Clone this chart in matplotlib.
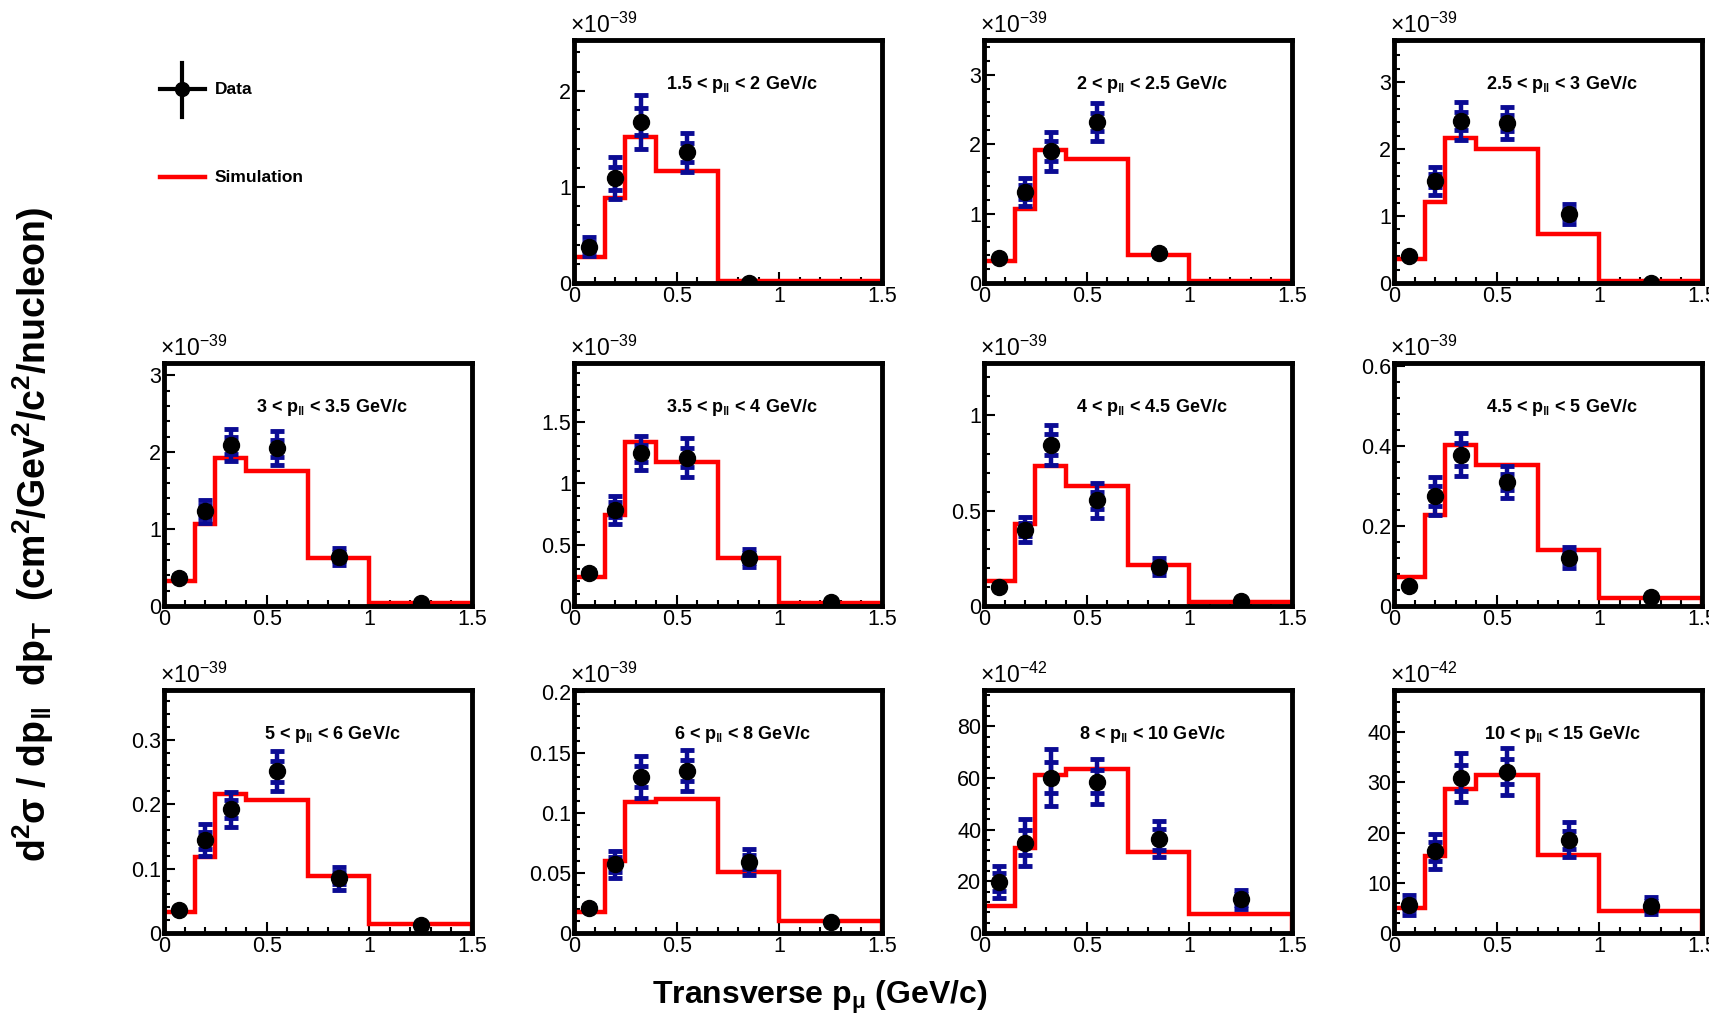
import numpy as np
import matplotlib.pyplot as plt
from matplotlib.ticker import MultipleLocator, AutoMinorLocator, FuncFormatter

plt.rcParams["font.family"] = ["Liberation Sans", "DejaVu Sans"]
plt.rcParams["mathtext.fontset"] = "custom"
plt.rcParams["mathtext.rm"] = "Liberation Sans"
plt.rcParams["mathtext.it"] = "Liberation Sans:italic"
plt.rcParams["mathtext.bf"] = "Liberation Sans:bold"

# transverse momentum binning (GeV/c)
pt_edges = [0, 0.15, 0.25, 0.4, 0.7, 1.0, 1.5]
pt_centers = [0.075, 0.2, 0.325, 0.55, 0.85, 1.25]

# longitudinal momentum slices
pl_lo = ["1.5", "2", "2.5", "3", "3.5", "4", "4.5", "5", "6", "8", "10"]
pl_hi = ["2", "2.5", "3", "3.5", "4", "4.5", "5", "6", "8", "10", "15"]
exponents = [-39, -39, -39, -39, -39, -39, -39, -39, -39, -42, -42]

nan = np.nan
data_vals = [
    [0.38, 1.09, 1.68, 1.36, 0.005, nan],
    [0.36, 1.31, 1.90, 2.32, 0.43, nan],
    [0.41, 1.53, 2.42, 2.39, 1.03, 0.005],
    [0.37, 1.23, 2.09, 2.05, 0.64, 0.04],
    [0.27, 0.785, 1.245, 1.21, 0.39, 0.036],
    [0.10, 0.40, 0.845, 0.554, 0.206, 0.026],
    [0.05, 0.275, 0.379, 0.31, 0.121, 0.0225],
    [0.035, 0.144, 0.192, 0.251, 0.085, 0.013],
    [0.021, 0.057, 0.130, 0.135, 0.059, 0.009],
    [19.8, 35.0, 60.0, 58.6, 36.3, 13.0],
    [5.6, 16.25, 30.9, 32.1, 18.6, 5.4],
]
total_err = [
    [0.10, 0.22, 0.28, 0.20, 0.0, nan],
    [0.03, 0.20, 0.28, 0.27, 0.04, nan],
    [0.03, 0.21, 0.29, 0.24, 0.15, 0.0],
    [0.03, 0.15, 0.21, 0.22, 0.11, 0.01],
    [0.02, 0.115, 0.14, 0.16, 0.075, 0.01],
    [0.01, 0.065, 0.105, 0.09, 0.045, 0.005],
    [0.005, 0.048, 0.054, 0.041, 0.026, 0.003],
    [0.003, 0.025, 0.027, 0.031, 0.018, 0.002],
    [0.002, 0.011, 0.0175, 0.017, 0.011, 0.001],
    [6.2, 9.0, 11.0, 8.6, 7.0, 3.7],
    [2.0, 3.5, 4.9, 4.7, 3.5, 1.7],
]
stat_err = [
    [0.05, 0.12, 0.14, 0.10, 0.0, nan],
    [0.02, 0.10, 0.14, 0.13, 0.02, nan],
    [0.02, 0.10, 0.14, 0.12, 0.07, 0.0],
    [0.02, 0.08, 0.11, 0.11, 0.06, 0.005],
    [0.01, 0.06, 0.07, 0.08, 0.04, 0.005],
    [0.005, 0.035, 0.055, 0.045, 0.022, 0.003],
    [0.003, 0.025, 0.028, 0.02, 0.013, 0.002],
    [0.002, 0.013, 0.014, 0.016, 0.009, 0.001],
    [0.001, 0.006, 0.009, 0.009, 0.006, 0.0005],
    [3.5, 5.0, 6.0, 4.5, 4.0, 2.0],
    [1.0, 1.9, 2.6, 2.5, 1.8, 0.9],
]
sim_vals = [
    [0.27, 0.88, 1.52, 1.17, 0.025, 0.025],
    [0.31, 1.07, 1.92, 1.79, 0.40, 0.03],
    [0.36, 1.21, 2.17, 2.00, 0.73, 0.035],
    [0.33, 1.07, 1.93, 1.75, 0.62, 0.035],
    [0.234, 0.744, 1.336, 1.176, 0.394, 0.022],
    [0.131, 0.428, 0.734, 0.629, 0.213, 0.023],
    [0.0725, 0.2275, 0.404, 0.352, 0.14, 0.02],
    [0.033, 0.118, 0.215, 0.206, 0.088, 0.014],
    [0.0174, 0.060, 0.109, 0.1115, 0.051, 0.0098],
    [10.4, 32.8, 61.3, 63.3, 31.4, 7.4],
    [4.9, 15.3, 28.6, 31.4, 15.6, 4.4],
]
y_max = [2.53, 3.5, 3.63, 3.16, 1.98, 1.275, 0.608, 0.377, 0.202, 94, 48.4]
y_step = [1, 1, 1, 1, 0.5, 0.5, 0.2, 0.1, 0.05, 20, 10]

W, H = 1709, 1027
fig = plt.figure(figsize=(W / 100, H / 100), dpi=100)

col_left = [164, 574, 984, 1394]
row_top = [40, 363, 690]
pw, ph = 308, 243
slots = [(0, 1), (0, 2), (0, 3), (1, 0), (1, 1), (1, 2), (1, 3),
         (2, 0), (2, 1), (2, 2), (2, 3)]

err_col = "#0b0b94"
fmt = FuncFormatter(lambda v, p: f"{v:g}")

for i, (r, c) in enumerate(slots):
    x0 = col_left[c] / W
    y0 = 1 - (row_top[r] + ph) / H
    ax = fig.add_axes([x0, y0, pw / W, ph / H])

    ax.stairs(sim_vals[i], pt_edges, baseline=0, color="red", lw=3.2, zorder=2)
    ax.errorbar(pt_centers, data_vals[i], yerr=total_err[i], fmt="none",
                ecolor=err_col, elinewidth=3.2, capsize=5, capthick=3.5, zorder=3)
    ax.errorbar(pt_centers, data_vals[i], yerr=stat_err[i], fmt="none",
                ecolor=err_col, elinewidth=3.2, capsize=5, capthick=3.5, zorder=3)
    ax.plot(pt_centers, data_vals[i], "o", color="black", ms=11.5, zorder=4)

    ax.set_xlim(0, 1.5)
    ax.set_ylim(0, y_max[i])
    ax.xaxis.set_major_locator(MultipleLocator(0.5))
    ax.xaxis.set_minor_locator(MultipleLocator(0.1))
    ax.yaxis.set_major_locator(MultipleLocator(y_step[i]))
    ax.yaxis.set_minor_locator(AutoMinorLocator(5))
    ax.xaxis.set_major_formatter(fmt)
    ax.yaxis.set_major_formatter(fmt)
    ax.tick_params(which="both", direction="in", top=False, right=False,
                   labelsize=15.5, width=1.5, pad=2)
    ax.tick_params(which="major", length=8)
    ax.tick_params(which="minor", length=4)
    for s in ax.spines.values():
        s.set_linewidth(3.5)

    ax.text(-0.012, 1.008, r"$\times$10$^{%d}$" % exponents[i],
            transform=ax.transAxes, ha="left", va="bottom", fontsize=16.5)
    ax.text(0.546, 0.80, f"{pl_lo[i]} < p" + r"$_{\mathbf{\Vert}}$" + f" < {pl_hi[i]} GeV/c",
            transform=ax.transAxes, ha="center", va="baseline",
            fontsize=13, fontweight="bold")

# legend drawn in figure pixel space
lg = fig.add_axes([0, 0, 1, 1], zorder=-1)
lg.set_xlim(0, W)
lg.set_ylim(H, 0)
lg.axis("off")
lg.plot([160, 205], [89, 89], color="black", lw=3)
lg.plot([182, 182], [63, 117], color="black", lw=3)
lg.plot([182], [89], "o", color="black", ms=10)
lg.text(215, 89, "Data", ha="left", va="center", fontsize=12.5, fontweight="bold")
lg.plot([160, 205], [177, 177], color="red", lw=3.2)
lg.text(215, 177, "Simulation", ha="left", va="center", fontsize=12.5, fontweight="bold")

fig.text(33 / W, 1 - 534 / H,
         r"d$^{\mathbf{2}}$$\mathbf{\sigma}$ / dp$_{\mathbf{\Vert}}$  dp$_{\mathbf{T}}$  (cm$^{\mathbf{2}}$/Gev$^{\mathbf{2}}$/c$^{\mathbf{2}}$/nucleon)",
         rotation=90, ha="center", va="center", fontsize=27, fontweight="bold")
fig.text(820 / W, 1 - 997 / H, r"Transverse p$_{\mathbf{\mu}}$ (GeV/c)",
         ha="center", va="center", fontsize=23, fontweight="bold")

fig.savefig("out.png", dpi=100)
